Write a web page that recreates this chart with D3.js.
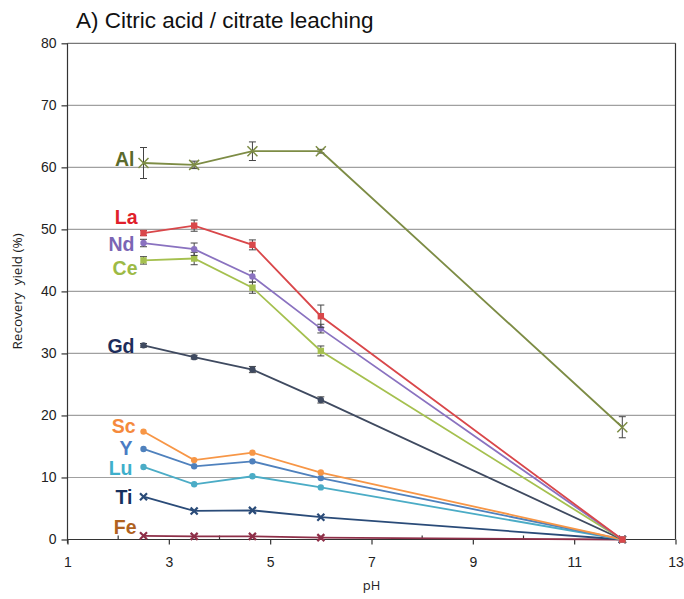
<!DOCTYPE html>
<html><head><meta charset="utf-8">
<script src="https://cdn.jsdelivr.net/npm/d3@7"></script>
<style>body{margin:0;background:#fff}svg{display:block}</style>
</head><body>
<script>
const pH = [2.5, 3.5, 4.65, 6.0, 11.95];
const series = ["Al","La","Nd","Ce","Gd","Sc","Y","Lu","Ti","Fe"];
const Al = [60.7, 60.4, 62.6, 62.6, 18.1];
const La = [49.4, 50.6, 47.5, 36.0, 0];
const Nd = [47.8, 46.8, 42.4, 34.0, 0];
const Ce = [45.0, 45.3, 40.6, 30.4, 0];
const Gd = [31.3, 29.4, 27.4, 22.5, 0];
const Sc = [17.4, 12.8, 14.0, 10.8, 0];
const Yv = [14.6, 11.8, 12.6, 9.9, 0];
const Lu = [11.7, 8.9, 10.2, 8.4, 0];
const Ti = [6.9, 4.6, 4.7, 3.6, 0];
const Fe = [0.6, 0.5, 0.5, 0.3, 0];
const AlErr = [2.5, 0.6, 1.5, 0.3, 1.7];
const LaErr = [0.4, 0.9, 0.8, 1.8, 0];
const NdErr = [0.6, 1.0, 0.9, 0.7, 0];
const CeErr = [0.6, 1.0, 0.9, 0.8, 0];
const GdErr = [0.3, 0.3, 0.5, 0.5, 0];
const SmallErr = [0.2, 0.2, 0.2, 0.2, 0];
const xTicks = [1, 3, 5, 7, 9, 11, 13];
const yTicks = [0, 10, 20, 30, 40, 50, 60, 70, 80];

const values = {Al, La, Nd, Ce, Gd, Sc, Y: Yv, Lu, Ti, Fe};
const errors = {Al: AlErr, La: LaErr, Nd: NdErr, Ce: CeErr, Gd: GdErr, Sc: SmallErr, Y: SmallErr, Lu: SmallErr, Ti: SmallErr, Fe: SmallErr};

const style = {
  Al: {line:"#7d8c45", mark:"x", label:"#5b6a2c", dy:-4, dx:-9, size:5},
  La: {line:"#d9474a", mark:"sq", label:"#e0202a", dy:-16, dx:-6, size:3.2},
  Nd: {line:"#8a72c0", mark:"ci", label:"#7b65b4", dy:1, dx:-9, size:3.2},
  Ce: {line:"#a5c04f", mark:"sq", label:"#9dba45", dy:8, dx:-6, size:3.2},
  Gd: {line:"#3f4a60", mark:"ci", label:"#1d2d5a", dy:1, dx:-9, size:3.2},
  Sc: {line:"#f79646", mark:"ci", label:"#f58a3c", dy:-5, dx:-8, size:3.2},
  Y:  {line:"#4f81bd", mark:"ci", label:"#4a7cc4", dy:-0.5, dx:-11, size:3.2},
  Lu: {line:"#4bacc6", mark:"ci", label:"#3eafcb", dy:1.5, dx:-11, size:3.2},
  Ti: {line:"#2a4b78", mark:"x", label:"#17305e", dy:0, dx:-11, size:3.5},
  Fe: {line:"#8e2f48", mark:"x", label:"#b0621f", dy:-9, dx:-7, size:3.5}
};

const W = 684, H = 599;
const m = {left: 67.5, right: 675.5, top: 43.3, bottom: 539.5};
const svg = d3.select("body").append("svg").attr("width", W).attr("height", H);
const x = d3.scaleLinear().domain([1, 13]).range([m.left, m.right]);
const y = d3.scaleLinear().domain([0, 80]).range([m.bottom, m.top]);

svg.append("g").selectAll("line").data(yTicks.filter(d => d > 0)).join("line")
  .attr("x1", m.left).attr("x2", m.right)
  .attr("y1", d => y(d)).attr("y2", d => y(d))
  .attr("stroke", d => d === 80 ? "#777" : "#a0a0a0").attr("stroke-width", 1.2);

svg.append("line").attr("x1", m.right).attr("x2", m.right).attr("y1", m.top).attr("y2", m.bottom)
  .attr("stroke", "#333").attr("stroke-width", 1.2);

const yAxis = svg.append("g").attr("transform", `translate(${m.left},0)`)
  .call(d3.axisLeft(y).tickValues(yTicks).tickSize(6).tickPadding(5));
yAxis.select(".domain").attr("stroke", "#333").attr("stroke-width", 1.2).attr("d", `M0,${m.top}V${m.bottom + 4}`);
yAxis.selectAll(".tick line").attr("stroke", "#333").attr("stroke-width", 1.2);
yAxis.selectAll("text").attr("font-family", "Liberation Sans, Arial, sans-serif").attr("font-size", 14).attr("fill", "#222");

const xAxis = svg.append("g").attr("transform", `translate(0,${m.bottom})`)
  .call(d3.axisBottom(x).tickValues(xTicks).tickSize(5).tickPadding(13));
xAxis.select(".domain").attr("stroke", "#333").attr("stroke-width", 1.2).attr("d", `M${m.left},0H${m.right}`);
xAxis.selectAll(".tick line").attr("stroke", "#333").attr("stroke-width", 1.2);
xAxis.selectAll("text").attr("font-family", "Liberation Sans, Arial, sans-serif").attr("font-size", 14).attr("fill", "#222");
svg.append("g").selectAll("line").data(d3.range(2, 13, 2)).join("line")
  .attr("x1", d => x(d)).attr("x2", d => x(d)).attr("y1", m.bottom).attr("y2", m.bottom - 4)
  .attr("stroke", "#333").attr("stroke-width", 1.2);

svg.append("text").attr("x", x(7)).attr("y", 590).attr("text-anchor", "middle")
  .attr("font-family", "Open Sans, DejaVu Sans, sans-serif").attr("font-size", 13).attr("fill", "#222").text("pH");
svg.append("text").attr("transform", `translate(22,${y(40)}) rotate(-90)`).attr("text-anchor", "middle")
  .attr("font-family", "Open Sans, DejaVu Sans, sans-serif").attr("font-size", 13.5).attr("fill", "#222")
  .attr("xml:space", "preserve").text("Recovery  yield (%)");

svg.append("text").attr("x", 76).attr("y", 28).attr("font-family", "Liberation Sans, Arial, sans-serif")
  .attr("font-size", 22.5).attr("fill", "#111").text("A) Citric acid / citrate leaching");

const line = d3.line().x((d, i) => x(pH[i])).y(d => y(d));

series.slice().reverse().forEach(s => {
  const st = style[s], vals = values[s], errs = errors[s];
  const g = svg.append("g");
  g.append("path").attr("d", line(vals)).attr("fill", "none").attr("stroke", st.line).attr("stroke-width", 1.8);
  vals.forEach((v, i) => {
    const e = errs[i];
    if (e <= 0.25) return;
    const cx = x(pH[i]);
    g.append("line").attr("x1", cx).attr("x2", cx).attr("y1", y(v - e)).attr("y2", y(v + e)).attr("stroke", "#444").attr("stroke-width", 1);
    [v - e, v + e].forEach(t => g.append("line").attr("x1", cx - 3.5).attr("x2", cx + 3.5).attr("y1", y(t)).attr("y2", y(t)).attr("stroke", "#444").attr("stroke-width", 1));
  });
  vals.forEach((v, i) => {
    const cx = x(pH[i]), cy = y(v), r = st.size;
    if (st.mark === "x") {
      g.append("path").attr("d", `M${cx - r},${cy - r}L${cx + r},${cy + r}M${cx - r},${cy + r}L${cx + r},${cy - r}`)
        .attr("stroke", st.line).attr("stroke-width", s === "Al" ? 1.5 : 2.2);
    } else if (st.mark === "sq") {
      g.append("rect").attr("x", cx - r).attr("y", cy - r).attr("width", 2 * r).attr("height", 2 * r).attr("fill", st.line);
    } else {
      g.append("circle").attr("cx", cx).attr("cy", cy).attr("r", r).attr("fill", st.line);
    }
  });
  g.append("text").attr("x", x(pH[0]) + st.dx).attr("y", y(vals[0]) + st.dy).attr("dy", "0.35em")
    .attr("text-anchor", "end").attr("font-family", "Liberation Sans, Arial, sans-serif")
    .attr("font-weight", "bold").attr("font-size", 19.5).attr("fill", st.label).text(s);
});
</script>
</body></html>
